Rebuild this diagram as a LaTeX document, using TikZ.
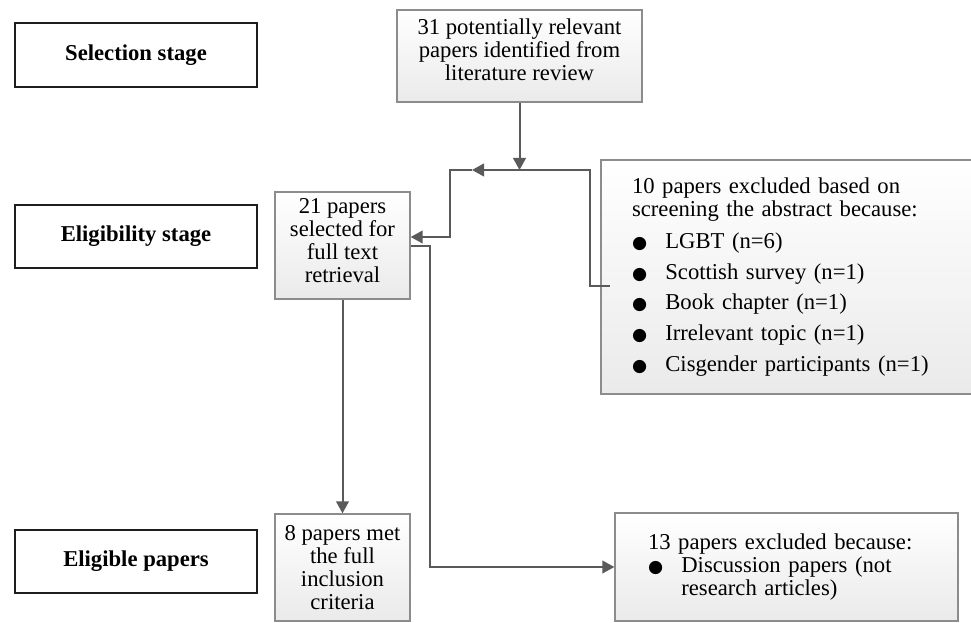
\documentclass[tikz,border=0pt]{standalone}
\usepackage{fontspec}
\setmainfont{Liberation Serif}
\newfontfamily\dotfont{DejaVu Sans}
\usetikzlibrary{arrows.meta}

\definecolor{linegrey}{RGB}{90,90,90}
\definecolor{boxgrey}{RGB}{140,140,140}
\definecolor{shadegrey}{RGB}{234,234,234}

\newcommand{\bul}{\makebox[25pt][l]{{\dotfont\fontsize{13}{13}\selectfont ●}}}

\tikzset{
  stagebox/.style={draw={rgb,255:red,30;green,30;blue,30}, line width=1.4pt, fill=white, minimum width=181.5pt, minimum height=47.25pt, inner sep=0pt, font=\fontsize{17}{20}\selectfont\bfseries},
  paperbox/.style={draw=boxgrey, line width=1pt, top color=white, bottom color=shadegrey, inner sep=0pt, align=center, font=\fontsize{17}{17.25}\selectfont},
  flow/.style={draw=linegrey, line width=1.5pt, -{Triangle[length=9pt,width=9.5pt]}}
}

\begin{document}
\begin{tikzpicture}[x=0.75pt,y=0.75pt,yscale=-1,xscale=1]
    \useasboundingbox (0,0) rectangle (971,623);

    % Stage labels
    \node[stagebox, minimum height=48pt] (sel) at (136,55) {Selection stage};
    \node[stagebox] (elig) at (136,236.5) {Eligibility stage};
    \node[stagebox] (eligp) at (136,561.5) {Eligible papers};

    % Paper boxes
    \node[paperbox, minimum width=183.75pt, minimum height=69pt, text depth=9pt] (lit) at (519.5,56) {31 potentially relevant\\papers identified from\\literature review};
    \node[paperbox, minimum width=101.25pt, minimum height=80.25pt, text depth=7.5pt] (ret) at (342.5,245.5) {21 papers\\selected for\\full text\\retrieval};
    \node[paperbox, minimum width=101.25pt, minimum height=80.25pt] (incl) at (342.5,567.5) {8 papers met\\the full\\inclusion\\criteria};
    \node[paperbox, align=left, inner xsep=23.25pt, text width=234pt, minimum height=175.5pt] (excl1) at (788,277) {10 papers excluded based on\\
      screening the abstract because:\\[6.75pt]
      \bul LGBT (n=6)\\[5.9pt]
      \bul Scottish survey (n=1)\\[5.9pt]
      \bul Book chapter (n=1)\\[5.9pt]
      \bul Irrelevant topic (n=1)\\[5.9pt]
      \bul Cisgender participants (n=1)};
    \node[paperbox, align=left, inner xsep=24.75pt, text width=207.75pt, minimum height=81pt] (excl2) at (786.5,567) {13 papers excluded because:\\
      \bul Discussion papers (not\\
      \hspace*{25pt}research articles)};

    % Connectors
    \coordinate (j1) at (519.5,170);
    \coordinate (j2) at (472,170);
    \coordinate (stub) at (610,286);
    \draw[flow] (lit.south) -- (j1);
    \draw[flow] (stub) -- (590,286) -- (590,170) -- (j2);
    \draw[flow] (j2) -- (450,170) -- (450,237) -- (ret.east |- 450,237);
    \draw[flow] (ret.east |- 0,246) -- (430,246) |- (excl2.west);
    \draw[flow] (ret.south) -- (incl.north);

\end{tikzpicture}
\end{document}
